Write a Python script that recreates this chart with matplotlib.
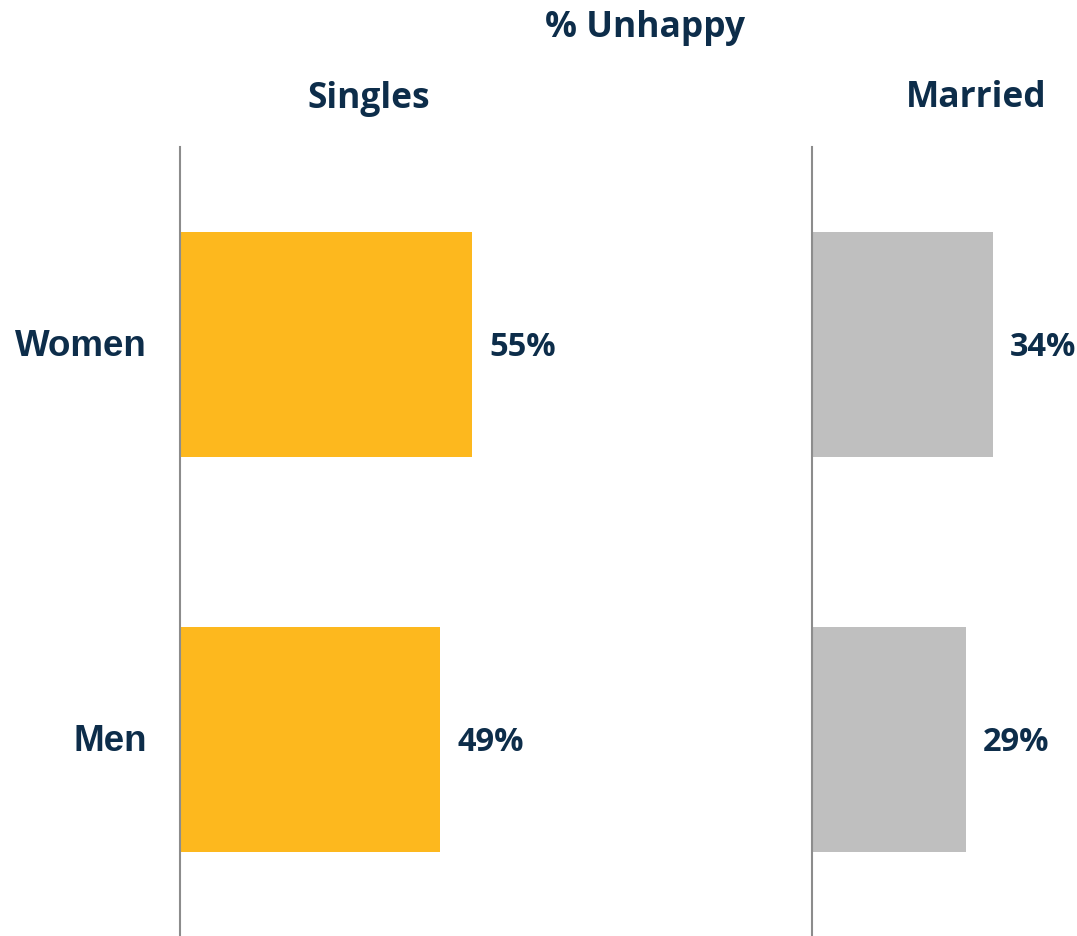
import matplotlib
matplotlib.use("Agg")
import matplotlib.pyplot as plt

categories = ["Women", "Men"]
singles = [55, 49]
married = [34, 29]
panel_titles = ["Singles", "Married"]
main_title = "% Unhappy"

W, H = 1077, 936
fig = plt.figure(figsize=(W / 100, H / 100), dpi=100)
NAVY = "#0D2D4A"
GOLD = "#FDB81E"
GRAY = "#BFBFBF"
PX_PER_UNIT = 5.31

def add_panel(x0, width_px, values, color, show_cats):
    top, bottom = 147, 937
    ax = fig.add_axes([x0 / W, 1 - bottom / H, width_px / W, (bottom - top) / H])
    ypos = list(range(len(values)))
    ax.barh(ypos, values, height=0.572, color=color)
    ax.set_xlim(0, width_px / PX_PER_UNIT)
    ax.set_ylim(1.5, -0.5)
    for s in ["top", "right", "bottom"]:
        ax.spines[s].set_visible(False)
    ax.spines["left"].set_color("#8C8C8C")
    ax.spines["left"].set_linewidth(1.5)
    ax.set_xticks([])
    ax.set_yticks([])
    for y, v in zip(ypos, values):
        ax.annotate(f"{v}%", (v, y), xytext=(12.2, -8.6), textcoords="offset points",
                    ha="left", va="baseline", fontsize=23.5, fontweight="bold",
                    color=NAVY, fontfamily="Open Sans")
    if show_cats:
        for y, c in zip(ypos, categories):
            ax.annotate(c, (0, y), xytext=(-24, -8.6), textcoords="offset points",
                        ha="right", va="baseline", fontsize=26.5, fontweight="bold",
                        color=NAVY, fontfamily="Liberation Sans")
    return ax

add_panel(180, 400, singles, GOLD, True)
add_panel(812, 265, married, GRAY, False)

fig.text(645 / W, 1 - 37 / H, main_title, ha="center", va="baseline", fontsize=25.5,
         fontweight="bold", color=NAVY, fontfamily="Open Sans")
fig.text(369 / W, 1 - 108 / H, panel_titles[0], ha="center", va="baseline", fontsize=25.5,
         fontweight="bold", color=NAVY, fontfamily="Open Sans")
fig.text(976 / W, 1 - 107 / H, panel_titles[1], ha="center", va="baseline", fontsize=25.5,
         fontweight="bold", color=NAVY, fontfamily="Open Sans")

fig.savefig("out.png", dpi=100)
